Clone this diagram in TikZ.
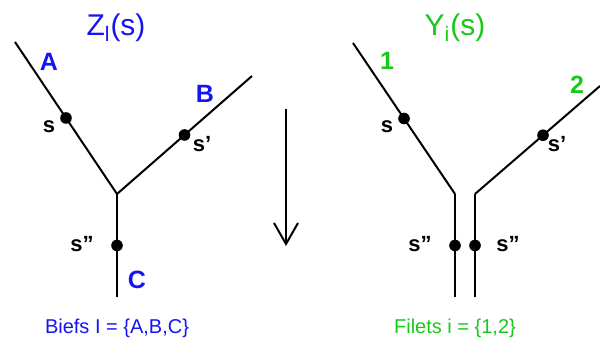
\documentclass[tikz,border=0pt]{standalone}
\usepackage{fontspec}
\setmainfont{Liberation Sans}
\definecolor{biefblue}{RGB}{20,20,245}
\definecolor{filetgreen}{RGB}{25,200,25}
\usetikzlibrary{arrows.meta}

\begin{document}
\begin{tikzpicture}[
  x=0.5pt, y=-0.5pt,
  branch/.style={line width=1pt, black},
  pt/.style={circle, fill=black, inner sep=0pt, minimum size=5.8pt},
  sname/.style={font=\bfseries\fontsize{11}{13}\selectfont, inner sep=0pt},
  bname/.style={font=\bfseries\fontsize{12.5}{15}\selectfont, inner sep=0pt},
  title/.style={font=\fontsize{15}{17}\selectfont, inner sep=0pt},
  setname/.style={font=\fontsize{10}{12}\selectfont, inner sep=0pt}
]
\useasboundingbox (0,0) rectangle (600,341);

% left: reaches
\node[title, text=biefblue] (zt) at (116,28) {Z\textsubscript{l}(s)};
\coordinate (jl) at (117,194);
\coordinate (a0) at (15,42);
\coordinate (b0) at (252,76);
\coordinate (c0) at (117,297);
\draw[branch] (a0) -- node[pt, pos=0.5] (sa) {} (jl);
\draw[branch] (jl) -- node[pt, pos=0.5] (sb) {} (b0);
\draw[branch] (jl) -- node[pt, pos=0.5] (sc) {} (c0);
\node[bname, text=biefblue] (la) at (49,62) {A};
\node[bname, text=biefblue] (lb) at (205,94) {B};
\node[bname, text=biefblue] (lc) at (137,280) {C};
\node[sname] (lsa) at (49,127) {s};
\node[sname] (lsb) at (202,144) {s'};
\node[sname] (lsc) at (82,244) {s''};
\node[setname, text=biefblue] (biefs) at (117,328) {Biefs I = \{A,B,C\}};

% arrow
\coordinate (ar0) at (286,109);
\coordinate (ar1) at (286,246);
\draw[line width=1pt, -{Straight Barb[length=10.5pt, width=12pt, line width=1pt]}] (ar0) -- (ar1);

% right: threads
\node[title, text=filetgreen] (yt) at (455,28) {Y\textsubscript{i}(s)};
\coordinate (j1) at (455,194);
\coordinate (j2) at (475,194);
\coordinate (f1) at (353,43);
\coordinate (f2) at (600,86);
\coordinate (e1) at (455,297);
\coordinate (e2) at (475,297);
\draw[branch] (f1) -- node[pt, pos=0.5] (s1) {} (j1);
\draw[branch] (j1) -- node[pt, pos=0.5] (s1c) {} (e1);
\draw[branch] (j2) -- node[pt, pos=0.544] (s2) {} (f2);
\draw[branch] (j2) -- node[pt, pos=0.5] (s2c) {} (e2);
\node[bname, text=filetgreen] (l1) at (387,61) {1};
\node[bname, text=filetgreen] (l2) at (577,85) {2};
\node[sname] (ls1) at (387,127) {s};
\node[sname] (ls2) at (557,144) {s'};
\node[sname] (ls1c) at (420,244) {s''};
\node[sname] (ls2c) at (508,244) {s''};
\node[setname, text=filetgreen] (filets) at (455,328) {Filets i = \{1,2\}};
\end{tikzpicture}
\end{document}
